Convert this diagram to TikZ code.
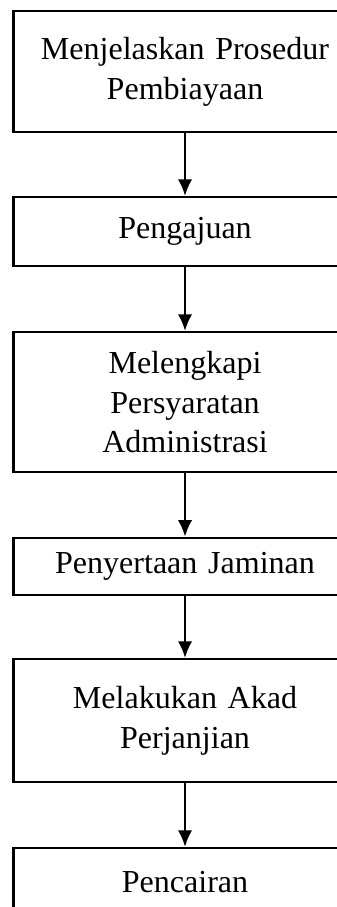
\documentclass[tikz,border=0pt]{standalone}
\usepackage{fontspec}
\setmainfont{Liberation Serif}
\usepackage{tikz}
\usetikzlibrary{shapes,arrows,arrows.meta,calc}
\tikzstyle{line} = [draw, line width=0.9pt, -{Latex[length=6pt,width=5.2pt]}]
\tikzstyle{block} = [draw, line width=0.8pt, rectangle, text width=4.15cm, text centered, minimum height=2em]

\begin{document}
\begin{tikzpicture}[node distance = 2cm, auto, font=\fontsize{11.65}{14.5}\selectfont]
        \useasboundingbox (-2.365,0.914) rectangle (1.930,-10.679);
        \node[block, minimum height=1.55cm] (jelaskan) {Menjelaskan Prosedur\\%
                                                        Pembiayaan};
        \node[block, below of=jelaskan, node distance=2.045cm, minimum height=0.88cm] (ajuan) {Pengajuan};
        \node[block, below of=ajuan, node distance=2.18cm, minimum height=1.79cm] (syarat) {Melengkapi\\%
                                                        Persyaratan\\%
                                                        Administrasi};
        \node[block, below of=syarat, node distance=2.10cm, minimum height=0.73cm] (jaminan) {Penyertaan Jaminan};
        \node[block, below of=jaminan, node distance=1.97cm, minimum height=1.57cm] (akad) {Melakukan Akad\\%
                                                        Perjanjian};
        \node[block, below of=akad, node distance=2.07cm, minimum height=0.88cm] (cair) {Pencairan};
        \path[line] (jelaskan) -- (ajuan);
        \path[line] (ajuan) -- (syarat);
        \path[line] (syarat) -- (jaminan);
        \path[line] (jaminan) -- (akad);
        \path[line] (akad) -- (cair);
    \end{tikzpicture}
\end{document}
